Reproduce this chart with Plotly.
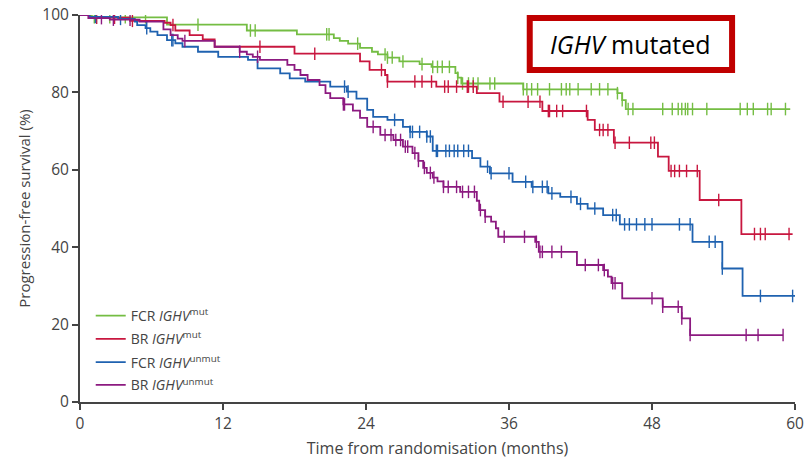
import numpy as np
import plotly.graph_objects as go

# ---- data (months, PFS %) ----
fcr_mut_t = [0, 1.0, 7.3, 14.0, 18.2, 21.3, 21.8, 22.5, 23.5, 24.5, 25.0, 25.8, 26.8, 28.5, 29.5, 31.5, 31.7, 32.0, 37.2, 45.1, 45.5, 45.8]
fcr_mut_s = [100, 99.4, 97.5, 96.0, 95.0, 94.0, 93.3, 92.6, 91.5, 90.5, 89.8, 89.0, 88.0, 87.3, 86.6, 85.0, 83.8, 82.3, 80.8, 79.8, 78.0, 75.7]
fcr_mut_end = 59.6
fcr_mut_cens = [1.2, 2.5, 3.8, 5.5, 9.9, 14.3, 14.7, 20.7, 20.9, 23.3, 25.6, 25.8, 26.2, 27.1, 28.7, 29.6, 30.0, 30.4, 31.0,
                31.7, 32.1, 32.6, 33.0, 33.4, 34.4, 34.8, 37.2, 37.5, 37.9, 38.4, 39.4, 40.4, 40.8, 41.1, 41.8, 42.9, 43.6,
                44.3, 45.1, 45.5, 46.0, 46.4, 48.9, 49.7, 50.2, 50.5, 50.8, 51.0, 51.4, 52.6, 55.4, 56.0, 56.5, 57.7, 58.0, 59.2]

br_mut_t = [0, 0.8, 4.2, 7.1, 7.6, 8.0, 9.2, 10.3, 11.3, 18.0, 23.5, 24.3, 25.6, 25.8, 29.9, 33.3, 35.2, 38.8, 42.6, 43.2, 44.8, 48.5, 49.4, 52.0, 55.5]
br_mut_s = [100, 99.3, 98.5, 98.0, 97.4, 96.0, 94.8, 93.7, 91.8, 90.0, 88.0, 85.8, 84.5, 82.8, 81.5, 79.8, 77.6, 75.2, 72.9, 70.3, 67.0, 63.4, 59.7, 52.2, 43.4]
br_mut_end = 59.8
br_mut_cens = [1.4, 2.9, 4.4, 7.8, 15.1, 19.7, 25.3, 25.8, 28.1, 28.7, 29.5, 30.6, 30.9, 31.6, 32.5, 32.6, 33.0, 35.5, 37.6,
               38.6, 39.3, 39.4, 40.0, 40.5, 42.5, 43.6, 43.9, 44.3, 44.9, 46.1, 47.9, 48.2, 49.6, 49.9, 50.3, 50.9, 51.8,
               53.6, 56.6, 57.1, 57.5, 59.5]

fcr_unmut_t = [0, 0.8, 3.2, 4.6, 4.8, 5.5, 5.9, 6.5, 7.3, 8.0, 8.6, 9.9, 11.6, 14.1, 14.9, 16.8, 17.6, 18.9, 21.0, 22.4, 23.2,
               24.1, 24.6, 25.8, 27.1, 27.7, 29.1, 29.6, 32.9, 33.6, 34.4, 36.3, 37.9, 39.3, 40.3, 41.7, 42.6, 43.9, 45.3,
               51.4, 53.9, 55.6]
fcr_unmut_s = [100, 99.5, 99.0, 98.3, 97.4, 96.6, 95.7, 94.8, 93.5, 92.7, 91.8, 90.5, 89.2, 88.4, 86.2, 84.9, 83.6, 82.8, 81.5,
               80.2, 78.4, 75.5, 73.7, 72.9, 71.1, 69.8, 68.6, 64.9, 63.0, 60.8, 59.1, 56.9, 55.6, 53.9, 53.0, 51.2, 50.0,
               48.3, 45.9, 41.4, 34.5, 27.4]
fcr_unmut_end = 60.0
fcr_unmut_cens = [1.3, 3.4, 5.6, 7.7, 7.8, 22.2, 22.5, 26.4, 27.7, 27.9, 28.5, 29.1, 29.4, 29.9, 30.0, 30.7, 31.0, 31.4, 31.7,
                  32.2, 32.6, 34.2, 34.5, 36.0, 37.4, 38.0, 38.8, 39.2, 39.6, 41.2, 42.0, 43.2, 44.7, 45.0, 45.7, 46.1,
                  46.7, 47.4, 48.0, 50.3, 51.2, 52.8, 53.3, 53.9, 57.1, 59.8]

br_unmut_t = [0, 0.7, 2.5, 5.0, 7.0, 7.6, 8.2, 8.6, 11.3, 13.4, 14.0, 14.5, 15.1, 17.4, 18.0, 18.5, 19.1, 20.1, 20.6, 21.0,
              22.1, 22.9, 23.5, 24.1, 25.2, 26.3, 27.1, 27.9, 28.4, 28.8, 29.1, 29.6, 30.0, 30.5, 31.9, 33.3, 33.5, 34.0,
              34.5, 34.9, 35.1, 38.2, 38.5, 41.7, 43.9, 44.3, 44.6, 45.5, 48.9, 50.5, 51.2]
br_unmut_s = [100, 99.2, 98.8, 98.3, 96.3, 94.8, 93.9, 93.3, 91.8, 90.5, 89.8, 89.2, 88.4, 87.1, 85.8, 84.5, 83.2, 81.9, 79.8,
              78.5, 76.9, 75.3, 73.4, 71.1, 69.0, 67.7, 66.0, 64.3, 62.3, 60.5, 59.2, 58.0, 57.0, 55.6, 54.3, 52.0, 49.6,
              47.9, 46.6, 44.9, 42.7, 41.4, 38.8, 35.4, 34.1, 32.4, 30.7, 26.8, 24.6, 21.6, 17.3]
br_unmut_end = 59.0
br_unmut_cens = [1.8, 2.8, 4.2, 8.8, 13.4, 14.9, 22.1, 22.2, 24.6, 25.6, 26.1, 26.5, 26.9, 27.3, 27.5, 28.1, 28.4, 28.9, 29.4,
                 29.7, 30.5, 30.9, 31.6, 32.1, 32.6, 33.1, 33.6, 34.0, 35.6, 37.3, 38.3, 38.6, 38.8, 39.6, 40.4, 42.4,
                 43.5, 44.0, 44.7, 44.9, 48.0, 48.9, 50.2, 50.5, 51.2, 55.9, 56.9, 59.0]

series = [
    ("FCR <i>IGHV</i><sup>mut</sup>", fcr_mut_t, fcr_mut_s, fcr_mut_end, fcr_mut_cens, "#74bd43"),
    ("BR <i>IGHV</i><sup>mut</sup>", br_mut_t, br_mut_s, br_mut_end, br_mut_cens, "#c8173f"),
    ("FCR <i>IGHV</i><sup>unmut</sup>", fcr_unmut_t, fcr_unmut_s, fcr_unmut_end, fcr_unmut_cens, "#1f62b0"),
    ("BR <i>IGHV</i><sup>unmut</sup>", br_unmut_t, br_unmut_s, br_unmut_end, br_unmut_cens, "#8c1a80"),
]

x_ticks = [0, 12, 24, 36, 48, 60]
y_ticks = [0, 20, 40, 60, 80, 100]

legend_ids = ["legend", "legend2", "legend3", "legend4"]
legend_y = [0.222, 0.162, 0.102, 0.043]

fig = go.Figure()
for (name, t, s, end, cens, col), lid in zip(series, legend_ids):
    xs = list(t) + [end]
    ys = list(s) + [s[-1]]
    fig.add_trace(go.Scatter(x=xs, y=ys, mode="lines", line=dict(color=col, width=1.8, shape="hv"),
                             name=name, showlegend=True, legend=lid))
    tt = np.array(t)
    ss = np.array(s)
    cy = [ss[np.searchsorted(tt, c, side="right") - 1] for c in cens]
    fig.add_trace(go.Scatter(x=cens, y=cy, mode="markers", showlegend=False, hoverinfo="skip",
                             marker=dict(symbol="line-ns", size=9, line=dict(color=col, width=1.4))))

legend_common = dict(x=0.015, xanchor="left", yanchor="middle", bgcolor="rgba(0,0,0,0)",
                     font=dict(size=14, color="#444444"), itemwidth=30)

fig.update_layout(
    width=807, height=464,
    margin=dict(l=80, r=12, t=15, b=62),
    paper_bgcolor="white", plot_bgcolor="white",
    font=dict(family="Open Sans", color="#333333"),
    showlegend=True,
    legend=dict(y=legend_y[0], **legend_common),
    legend2=dict(y=legend_y[1], **legend_common),
    legend3=dict(y=legend_y[2], **legend_common),
    legend4=dict(y=legend_y[3], **legend_common),
    xaxis=dict(range=[0, 60], tickvals=x_ticks, ticktext=[str(v) for v in x_ticks], automargin=False,
               showgrid=False, zeroline=False, showline=True, linecolor="#444444", linewidth=2,
               ticks="outside", ticklen=6, tickwidth=1.5, tickcolor="#444444",
               tickfont=dict(size=15.5, color="#444444"),
               title=dict(text="Time from randomisation (months)", font=dict(size=16, color="#444444"), standoff=10)),
    yaxis=dict(range=[0, 100], tickvals=y_ticks, ticktext=[str(v) for v in y_ticks], automargin=False,
               showgrid=False, zeroline=False, showline=True, linecolor="#444444", linewidth=2,
               ticks="outside", ticklen=6, tickwidth=1.5, tickcolor="#444444",
               tickfont=dict(size=15.5, color="#444444"),
               title=dict(text="Progression-free survival (%)", font=dict(size=15, color="#444444"), standoff=8)),
)

fig.add_shape(type="rect", xref="paper", yref="paper", x0=0.629, x1=0.912, y0=0.858, y1=0.992,
              line=dict(color="#c00000", width=6), fillcolor="white", layer="above")
fig.add_annotation(xref="paper", yref="paper", x=0.7705, y=0.925, xanchor="center", yanchor="middle",
                   showarrow=False,
                   text="<i>IGHV</i> mutated", font=dict(family="Open Sans", size=25, color="#000000"))

fig.write_html("out.html")
